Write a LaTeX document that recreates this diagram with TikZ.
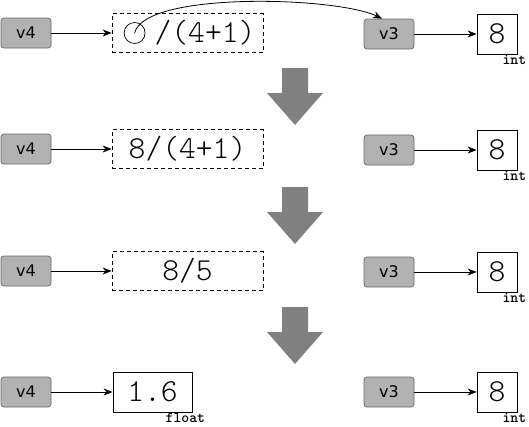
\documentclass[tikz,border=0pt]{standalone}
\usepackage{fontspec}
\newfontfamily\varfont{DejaVu Sans}
\newfontfamily\exprfont{lmmonolt10-regular.otf}
\newfontfamily\typefont{lmmonolt10-bold.otf}
\usetikzlibrary{arrows.meta}
\tikzset{
    var/.style={draw=black!60, fill=black!30, rounded corners=3pt, minimum width=50pt,
        minimum height=30pt, inner sep=0pt, line width=0.7pt,
        font=\varfont\fontsize{16}{18}\selectfont},
    expr/.style={draw, dash pattern=on 4pt off 3pt, minimum width=151pt, minimum height=39pt,
        inner sep=0pt, line width=0.8pt, font=\exprfont\fontsize{32}{32}\selectfont},
    value/.style={draw, minimum width=40pt, minimum height=40pt, inner sep=0pt,
        line width=0.8pt, font=\exprfont\fontsize{32}{32}\selectfont},
    typename/.style={anchor=north, inner sep=0pt, font=\typefont\fontsize{15}{15}\selectfont},
    hole/.style={circle, draw, minimum size=21pt, inner sep=0pt, line width=0.7pt},
    link/.style={-{Stealth[length=9pt,width=7pt]}, line width=0.8pt},
    stepfill/.style={fill=black!50}
}

\begin{document}
\begin{tikzpicture}[x=1pt, y=-1pt]
    \useasboundingbox (0,0) rectangle (529,426);
    % row 1: the hole in the expression is filled from v3
    \node[var] (v4a) at (26,33) {v4};
    \node[expr] (e1) at (187.5,33) {\hspace*{35pt}/(4+1)};
    \node[hole] (hole) at ([xshift=23pt]e1.west) {};
    \node[var] (v3a) at (389,34) {v3};
    \node[value] (n1) at (497,34) {8};
    \node[typename] (t1) at ([xshift=-3pt,yshift=-1pt]n1.south east) {int};
    \draw[link] (v4a) -- (e1);
    \draw[link] (v3a) -- (n1);
    \draw[link] (hole.center) .. controls +(10,-42) and +(-45,-22) .. ([xshift=-7pt]v3a.north);
    % row 2
    \node[var] (v4b) at (26,149) {v4};
    \node[expr] (e2) at (187.5,149) {8/(4+1)};
    \node[var] (v3b) at (389,150) {v3};
    \node[value] (n2) at (497,150) {8};
    \node[typename] (t2) at ([xshift=-3pt,yshift=-1pt]n2.south east) {int};
    \draw[link] (v4b) -- (e2);
    \draw[link] (v3b) -- (n2);
    % row 3
    \node[var] (v4c) at (26,271) {v4};
    \node[expr] (e3) at (187.5,271) {8/5};
    \node[var] (v3c) at (389,272) {v3};
    \node[value] (n3) at (497,272) {8};
    \node[typename] (t3) at ([xshift=-3pt,yshift=-1pt]n3.south east) {int};
    \draw[link] (v4c) -- (e3);
    \draw[link] (v3c) -- (n3);
    % row 4: the result is stored as a float
    \node[var] (v4d) at (26,392) {v4};
    \node[value, minimum width=79pt] (r4) at (152.5,392) {1.6};
    \node[typename] (t4) at ([xshift=-7pt,yshift=-1pt]r4.south east) {float};
    \node[var] (v3d) at (389,392) {v3};
    \node[value] (n4) at (497,392) {8};
    \node[typename] (t5) at ([xshift=-3pt,yshift=-1pt]n4.south east) {int};
    \draw[link] (v4d) -- (r4);
    \draw[link] (v3d) -- (n4);
    % evaluation steps
    \fill[stepfill] (282,68) -- ++(26,0) -- ++(0,25) -- ++(15,0) -- ++(-28,32) -- ++(-28,-32) -- ++(15,0) -- cycle;
    \fill[stepfill] (282,187) -- ++(26,0) -- ++(0,25) -- ++(15,0) -- ++(-28,32) -- ++(-28,-32) -- ++(15,0) -- cycle;
    \fill[stepfill] (282,307) -- ++(26,0) -- ++(0,25) -- ++(15,0) -- ++(-28,32) -- ++(-28,-32) -- ++(15,0) -- cycle;
\end{tikzpicture}
\end{document}
